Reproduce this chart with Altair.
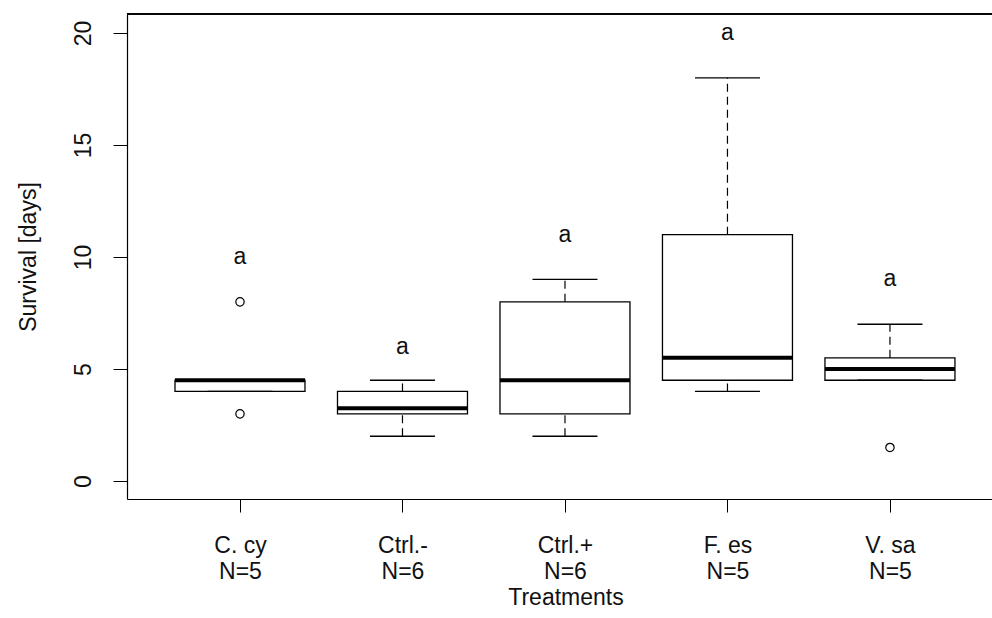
import json

import altair as alt
import pandas as pd

# Five-number summaries per treatment (R-style boxplot statistics)
treatments = ["C. cy", "Ctrl.-", "Ctrl.+", "F. es", "V. sa"]
group_sizes = [5, 6, 6, 5, 5]
whisker_low = [4.0, 2.0, 2.0, 4.0, 4.5]
quartile_1 = [4.0, 3.0, 3.0, 4.5, 4.5]
medians = [4.5, 3.25, 4.5, 5.5, 5.0]
quartile_3 = [4.5, 4.0, 8.0, 11.0, 5.5]
whisker_high = [4.5, 4.5, 9.0, 18.0, 7.0]

# Points beyond the whiskers
outlier_groups = ["C. cy", "C. cy", "V. sa"]
outlier_values = [8.0, 3.0, 1.5]

# Significance letters above each box
letters = ["a", "a", "a", "a", "a"]
letter_heights = [10, 6, 11, 20, 9]

y_ticks = [0, 5, 10, 15, 20]

BOX_HALF = 0.4
CAP_HALF = 0.2
FONT = "Liberation Sans"
FS = 23
INK = "#111111"

positions = list(range(1, len(treatments) + 1))
stats = pd.DataFrame({
    "treatment": treatments,
    "pos": positions,
    "n": group_sizes,
    "lo": whisker_low,
    "q1": quartile_1,
    "med": medians,
    "q3": quartile_3,
    "hi": whisker_high,
    "letter": letters,
    "letter_y": letter_heights,
})
stats["left"] = stats["pos"] - BOX_HALF
stats["right"] = stats["pos"] + BOX_HALF
stats["cap_l"] = stats["pos"] - CAP_HALF
stats["cap_r"] = stats["pos"] + CAP_HALF

pos_of = dict(zip(treatments, positions))
outliers = pd.DataFrame({
    "pos": [pos_of[g] for g in outlier_groups],
    "value": outlier_values,
})

tick_lines = [[t, f"N={n}"] for t, n in zip(treatments, group_sizes)]
label_expr = f"{json.dumps(tick_lines)}[datum.value - 1]"

W, H = 865, 485
x_scale = alt.Scale(domain=[0.3046, 5.628], nice=False, zero=False)
y_scale = alt.Scale(domain=[-0.8, 20.85], nice=False, zero=False)

x_axis = alt.Axis(
    values=positions, labelExpr=label_expr, grid=False,
    tickSize=13, tickColor="black", domainColor="black",
    tickWidth=1, domainWidth=1.2,
    labelFont=FONT, labelFontSize=FS, labelColor=INK,
    labelLineHeight=26, labelPadding=22, labelBaseline="top",
    labelAlign="center", labelFlush=False,
    title="Treatments", titleFont=FONT, titleFontSize=FS,
    titleFontWeight="normal", titleColor=INK,
    titleX=438.5, titleY=105, titleBaseline="alphabetic", titleAlign="center",
)
y_axis = alt.Axis(
    values=y_ticks, grid=False,
    tickSize=14, tickColor="black", domainColor="black",
    tickWidth=1, domainWidth=1.2,
    labelFont=FONT, labelFontSize=FS, labelColor=INK,
    labelAngle=270, labelAlign="center", labelBaseline="middle",
    labelPadding=30, labelFlush=False,
    title="Survival [days]", titleFont=FONT, titleFontSize=FS,
    titleFontWeight="normal", titleColor=INK,
    titleAngle=270, titleX=-99, titleY=242.5,
    titleBaseline="middle", titleAlign="center",
)


def X(field):
    return alt.X(field, type="quantitative", scale=x_scale, axis=x_axis)


def Y(field):
    return alt.Y(field, type="quantitative", scale=y_scale, axis=y_axis)


base = alt.Chart(stats)

boxes = base.mark_rect(fill="white", stroke="black", strokeWidth=1.3).encode(
    x=X("left"), x2="right", y=Y("q1"), y2="q3"
)
median_lines = base.mark_rule(color="black", strokeWidth=4).encode(
    x=X("left"), x2="right", y=Y("med")
)
upper_whiskers = base.mark_rule(color="black", strokeWidth=1.2, strokeDash=[8, 5]).encode(
    x=X("pos"), y=Y("q3"), y2="hi"
)
lower_whiskers = base.mark_rule(color="black", strokeWidth=1.2, strokeDash=[8, 5]).encode(
    x=X("pos"), y=Y("lo"), y2="q1"
)
upper_caps = base.mark_rule(color="black", strokeWidth=1.3).encode(
    x=X("cap_l"), x2="cap_r", y=Y("hi")
)
lower_caps = base.mark_rule(color="black", strokeWidth=1.3).encode(
    x=X("cap_l"), x2="cap_r", y=Y("lo")
)
outlier_marks = alt.Chart(outliers).mark_point(
    shape="circle", filled=False, color="black", size=70, strokeWidth=1.2, opacity=1
).encode(x=X("pos"), y=Y("value"))
letter_marks = base.mark_text(
    font=FONT, fontSize=FS, color=INK, baseline="middle", align="center"
).encode(x=X("pos"), y=Y("letter_y"), text="letter")

# upper edge of the plotting frame
top_edge = alt.Chart(stats).mark_rule(color="black", strokeWidth=1.2).encode(
    x=alt.value(0), x2=alt.value(W), y=alt.value(0)
)

chart = alt.layer(
    boxes, upper_whiskers, lower_whiskers, upper_caps, lower_caps,
    median_lines, outlier_marks, letter_marks, top_edge,
).properties(
    width=W, height=H,
    autosize=alt.AutoSizeParams(type="none"),
    padding={"left": 127, "top": 14, "right": 0, "bottom": 119},
    background="white",
).configure_view(stroke=None)

chart.save("out.html", embed_options={"renderer": "svg", "actions": False})
